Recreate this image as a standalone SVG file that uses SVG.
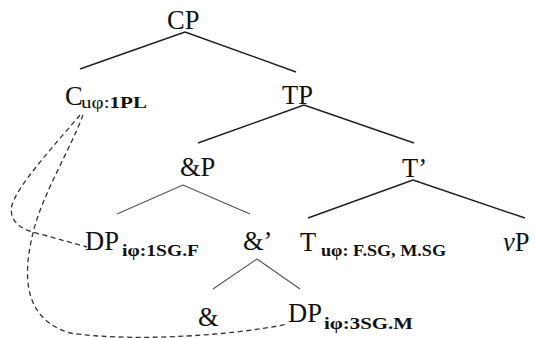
<svg xmlns="http://www.w3.org/2000/svg" width="535" height="338" viewBox="0 0 535 338">
<style>
.lbl{font-family:"Liberation Serif","Times New Roman",serif;font-size:26.5px;fill:#111}
.sub{font-family:"Liberation Serif","Times New Roman",serif;font-size:16.5px;font-weight:bold;fill:#111}
.edge{stroke:#222;stroke-width:1.4;fill:none}
.thin{stroke:#555;stroke-width:1.1;fill:none}
.dash{stroke:#333;stroke-width:1.3;fill:none;stroke-dasharray:5,3.5}
</style>
<rect width="535" height="338" fill="#fff"/>
<g id="connectors">
<line class="edge" x1="185" y1="32" x2="80" y2="69"/>
<line class="edge" x1="185" y1="32" x2="296" y2="72"/>
<line class="edge" x1="304" y1="105" x2="198" y2="143"/>
<line class="edge" x1="304" y1="105" x2="414" y2="143"/>
<line class="thin" x1="183" y1="185" x2="117" y2="214"/>
<line class="thin" x1="183" y1="185" x2="250" y2="214"/>
<line class="thin" x1="257" y1="259" x2="213" y2="289"/>
<line class="thin" x1="257" y1="259" x2="300" y2="289"/>
<line class="edge" x1="413" y1="180" x2="308" y2="218"/>
<line class="edge" x1="413" y1="180" x2="525" y2="218"/>
<path class="dash" d="M80,115 C52,148 18,185 12,205 C8,222 22,230 40,234 L87,247"/>
<path class="dash" d="M83,115 C70,150 42,195 33,233 C24,270 20,318 70,333 C130,342 230,336 288,324"/>
</g>
<g id="CP"><text class="lbl" x="167" y="29">CP</text></g>
<g id="C"><text class="lbl" x="65" y="105">C</text><text class="sub" x="81" y="108" textLength="66" lengthAdjust="spacingAndGlyphs"><tspan font-weight="normal">uφ:</tspan>1PL</text></g>
<g id="TP"><text class="lbl" x="282" y="104">TP</text></g>
<g id="andP"><text class="lbl" x="180" y="176">&amp;P</text></g>
<g id="Tbar"><text class="lbl" x="402" y="177">T’</text></g>
<g id="DP1"><text class="lbl" x="85" y="250">DP</text><text class="sub" x="122" y="256" textLength="77" lengthAdjust="spacingAndGlyphs">iφ:1SG.F</text></g>
<g id="andbar"><text class="lbl" x="243" y="250">&amp;’</text></g>
<g id="T"><text class="lbl" x="300" y="251">T</text><text class="sub" x="321" y="256" textLength="125" lengthAdjust="spacingAndGlyphs">uφ: F.SG, M.SG</text></g>
<g id="vP"><text class="lbl" x="503" y="251"><tspan font-style="italic">v</tspan>P</text></g>
<g id="and"><text class="lbl" x="198" y="326">&amp;</text></g>
<g id="DP2"><text class="lbl" x="288" y="322">DP</text><text class="sub" x="324" y="329" textLength="89" lengthAdjust="spacingAndGlyphs">iφ:3SG.M</text></g>
</svg>
